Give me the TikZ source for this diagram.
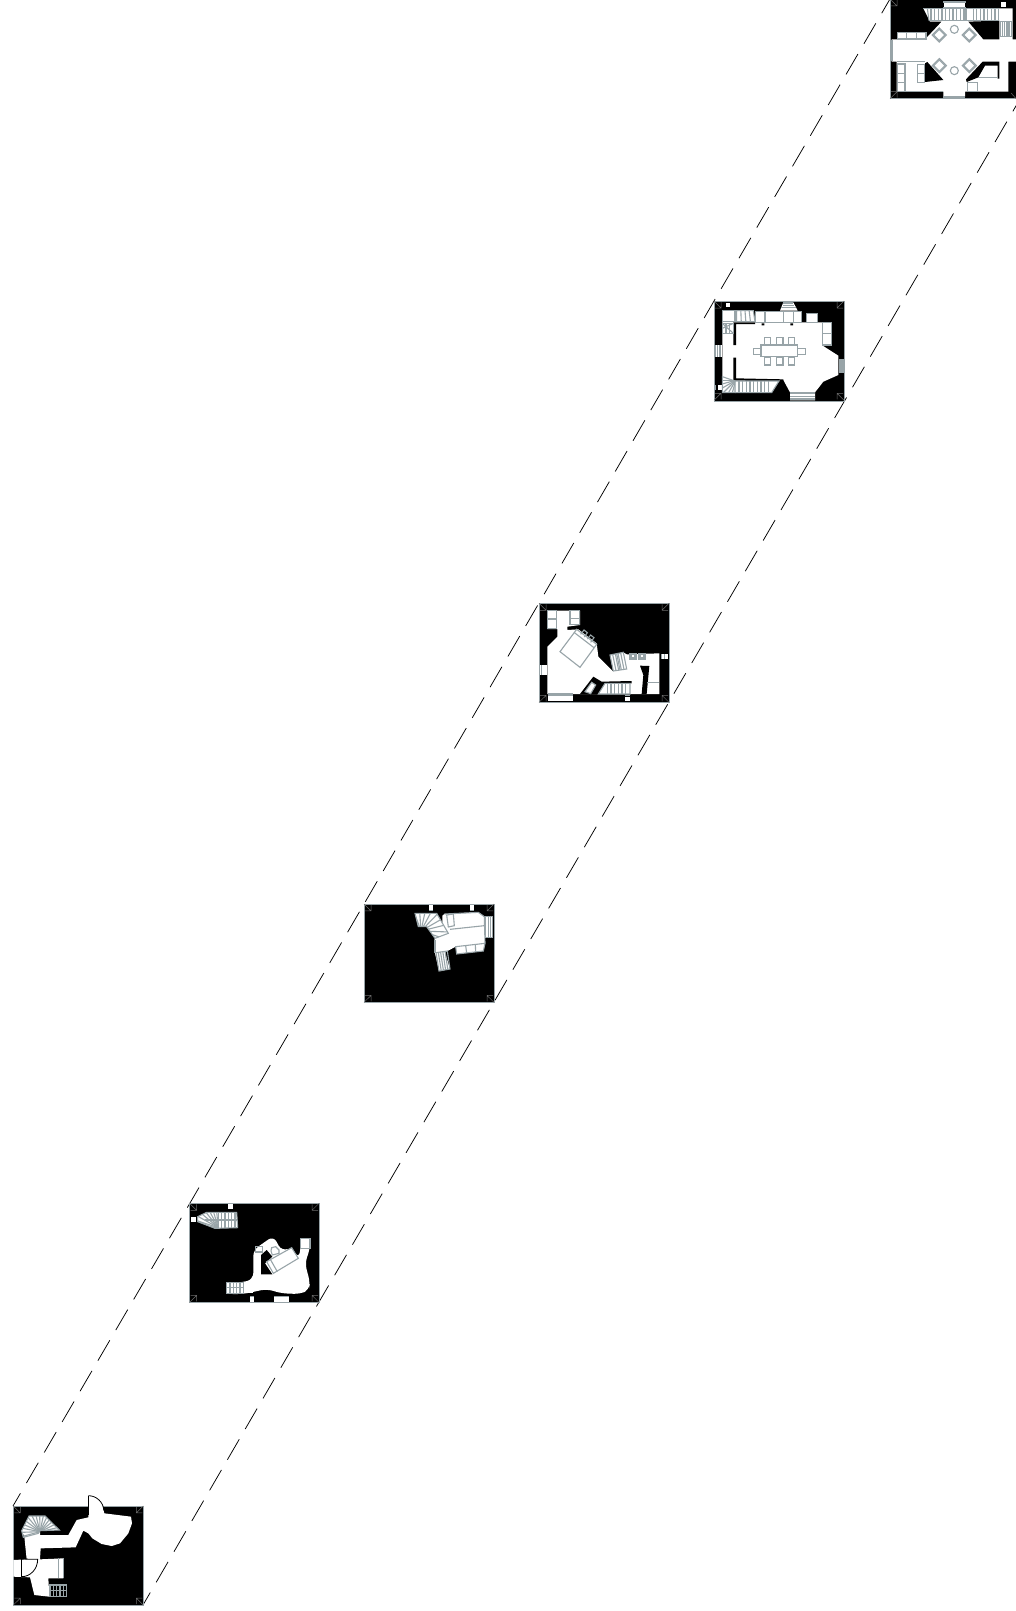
\documentclass[tikz,border=0pt]{standalone}
\usetikzlibrary{calc}
\definecolor{detgray}{HTML}{98A4A8}
\definecolor{markgray}{HTML}{6A6A6A}
\tikzset{
  det/.style={draw=detgray,line width=1.1pt,line join=miter},
  wh/.style={fill=white,draw=none},
  bk/.style={fill=black,draw=none},
  boxfill/.style={fill=black,draw=detgray,line width=0.8pt},
  dashline/.style={draw=black,line width=0.75pt,dash pattern=on 23.6pt off 11.85pt},
  doorline/.style={draw=black,line width=0.8pt},
  cornertick/.style={draw=markgray,line width=0.5pt},
  pl/.style 2 args={shift={(#1pt,-#2pt)},x=0.33333pt,y=-0.33333pt},
}
% stair: quad a b c d with n treads between a-b and d-c
\newcommand\stairq[5]{%
  \draw[det] (#1)--(#2)--(#3)--(#4)--cycle;
  \foreach \ii in {1,...,#5}{%
    \pgfmathsetmacro\tt{\ii/(#5+1)}%
    \draw[det] ($(#1)!\tt!(#2)$) -- ($(#4)!\tt!(#3)$);}}
% chair/square: centre, half size, angle
\newcommand\rotsq[4]{%
  \draw[det,shift={(#1)},rotate=#3,fill=white] (-#2,-#2) rectangle (#2,#2);
  \draw[det,shift={(#1)},rotate=#3] (-#2+#4,-#2+#4) rectangle (#2-#4,#2-#4);}
\newcommand\boxmarks{%
  \draw[cornertick] (0,0)--(21,21) (21,3)--(21,21)--(3,21);
  \draw[cornertick] (390,0)--(369,21) (369,3)--(369,21)--(387,21);
  \draw[cornertick] (0,298)--(21,277) (21,295)--(21,277)--(3,277);
  \draw[cornertick] (390,298)--(369,277) (369,295)--(369,277)--(387,277);}
\begin{document}
\begin{tikzpicture}[x=1pt,y=-1pt]
\useasboundingbox (0,0) rectangle (1016,1611);
\clip (0,0) rectangle (1016,1611);

% corners the dashed lines run through
\coordinate (tl1) at (890,-1);   \coordinate (br1) at (1020,99);
\coordinate (tl2) at (714,301);  \coordinate (br2) at (844.5,401);
\coordinate (tl3) at (539,603);  \coordinate (br3) at (669,702);
\coordinate (tl4) at (364,904);  \coordinate (br4) at (494,1002);
\coordinate (tl5) at (190,1203); \coordinate (br5) at (319,1302);
\coordinate (tl6) at (13,1506);  \coordinate (br6) at (143,1605);

\draw[dashline,dash phase=7.2pt] (tl1)--(tl2);
\draw[dashline,dash phase=3.9pt] (tl2)--(tl3);
\draw[dashline,dash phase=32.6pt] (tl3)--(tl4);
\draw[dashline,dash phase=26.4pt] (tl4)--(tl5);
\draw[dashline,dash phase=18.3pt] (tl5)--(tl6);
\draw[dashline,dash phase=9.3pt] (br1)--(br2);
\draw[dashline,dash phase=3.9pt] (br2)--(br3);
\draw[dashline,dash phase=32.8pt] (br3)--(br4);
\draw[dashline,dash phase=26.3pt] (br4)--(br5);
\draw[dashline,dash phase=18.5pt] (br5)--(br6);

%% ---------- plan 1 (top floor, zoom origin 870,0)
\begin{scope}[pl={870}{0}]
\draw[boxfill] (60,-3) rectangle (450,296);
\path[wh] (160,25)--(428,25)--(428,118)--(445,118)--(445,185)--(415,185)--(415,275)--(285,275)--(285,290)--(220,290)--(220,275)--(80,275)--(80,185)--(65,185)--(65,118)--(82,118)--(82,97)--(168,97)--(168,115)--(215,65)--(180,65)--cycle;
\path[bk] (295,65)--(388,62)--(388,118)--(340,118)--cycle;
\path[bk] (165,190)--(172,186)--(220,240)--(165,246)--cycle;
\path[bk] (338,185)--(388,185)--(388,236)--(383,236)--(383,197)--(345,197)--(325,232)--(290,246)--(288,238)--cycle;
% windows
\path[wh] (222,10) rectangle (286,25);
\draw[det,line width=1.4pt] (220,6)--(288,6);
\draw[det] (220,22)--(288,22) (220,25)--(288,25);
\path[wh] (392,5) rectangle (408,20);
\draw[det,line width=2.4pt] (220,292)--(285,292);
\draw[det,line width=2.2pt] (66,120)--(66,183);
% stairs
\draw[det] (160,25)--(385,25) (178,62)--(385,62)--(385,25);
\foreach \x in {172,183,...,285}{\draw[det] (\x,25)--({\x+(\x<180)*5},62);}
\draw[det] (288,25)--(288,60) (310,25)--(310,60);
\foreach \x in {320,331,...,375}{\draw[det] (\x,25)--(\x,62);}
\stairq{392,65}{425,65}{425,110}{392,110}{5}
% furniture
\draw[det] (82,97) rectangle (168,117) (110,97)--(110,117) (139,97)--(139,117);
\draw[det] (82,192) rectangle (105,275) (82,220)--(105,220) (82,248)--(105,248);
\draw[det] (142,193) rectangle (163,248) (142,221)--(163,221);
\draw[det] (80,185)--(165,185);
\draw[det] (105,275)--(220,275);
\draw[det] (293,247) rectangle (322,275);
\draw[det] (325,232)--(385,232);
\draw[det] (253,88) circle [radius=12];
\draw[det] (253,212) circle [radius=12];
\rotsq{208,105}{15}{45}{3}
\rotsq{298,105}{15}{45}{3}
\rotsq{208,197}{15}{45}{3}
\rotsq{298,197}{15}{45}{3}
\draw[cornertick] (60,-3)--(81,18) (81,0)--(81,18)--(63,18);
\draw[cornertick] (60,296)--(81,275) (81,293)--(81,275)--(63,275);
\draw[cornertick] (438,296)--(424,280);
\end{scope}

%% ---------- plan 2 (zoom origin 705,295)
\begin{scope}[pl={705}{295}]
\draw[boxfill] (27,18) rectangle (417,318);
\begin{scope}[shift={(27,18)}]\boxmarks\end{scope}
\path[wh] (52,47)--(145,47)--(150,80)--(152,82)--(152,50)--(290,50)--(290,82)--(305,82)--(305,55)--(338,55)--(338,82)--(380,82)--(380,150)--(350,150)--(400,182)--(400,240)--(355,260)--(330,292)--(330,316)--(255,316)--(255,292)--(235,255)--(222,258)--(200,293)--(52,293)--cycle;
\path[bk] (85,82)--(150,82)--(150,87)--(93,87)--(93,150)--(85,150)--cycle;
\path[bk] (85,188)--(93,188)--(93,250)--(235,253)--(235,258)--(85,257)--cycle;
% windows
\path[wh] (235,22)--(265,22)--(278,47)--(225,47)--cycle;
\draw[det] (235,24)--(265,24) (233,31)--(268,31) (228,38)--(273,38);
\path[wh] (62,24) rectangle (75,37);
\path[wh] (30,150) rectangle (52,185);
\draw[det] (31,150)--(31,185) (38,150)--(38,185) (45,150)--(45,185);
\draw[det] (403,195) rectangle (414,232) (408,195)--(408,232);
\path[wh] (38,270) rectangle (50,285);
\draw[det] (30,270)--(30,285);
\draw[det] (255,294)--(330,294) (255,304)--(330,304) (255,312)--(330,312);
% stairs
\stairq{95,47}{145,47}{150,80}{95,80}{3}
\draw[det] (52,47) rectangle (90,80);
\draw[det] (52,47)--(135,47);
\stairq{52,85}{85,85}{85,115}{52,115}{2}
\draw[det] (52,85)--(85,115) (85,85)--(52,100);
\begin{scope}
\clip (52,245)--(90,258)--(90,293)--(52,293)--cycle;
\foreach \a in {90,105,...,180}{\draw[det] (92,256)--+(\a:70);}
\end{scope}
\draw[det] (52,245)--(90,258)--(90,293)--(52,293)--cycle;
\draw[det] (90,258)--(222,258)--(200,293)--(90,293);
\foreach \x in {102,113,...,190}{\draw[det] (\x,258)--(\x,293);}
% furniture
\draw[det] (152,50) rectangle (290,82) (180,50)--(180,82) (235,50)--(235,82) (265,50)--(265,82);
\draw[det] (305,55) rectangle (338,82);
\draw[det] (352,82) rectangle (380,150) (352,115)--(380,115);
\draw[bk] (170,85) rectangle (178,91) (256,85) rectangle (264,91);
\draw[det,fill=white] (168,150) rectangle (278,185);
\foreach \x in {178,215,250}{%
  \draw[det] (\x,127) rectangle ++(19,23);
  \draw[det] (\x,188) rectangle ++(19,22);}
\draw[det] (145,160) rectangle (168,178);
\draw[det] (278,160) rectangle (302,178);
\end{scope}

%% ---------- plan 3 (zoom origin 530,595)
\begin{scope}[pl={530}{595}]
\draw[boxfill] (27,25) rectangle (417,322);
\begin{scope}[shift={(27,25)},yscale=0.997]\boxmarks\end{scope}
\path[wh] (52,47)--(150,47)--(150,90)--(112,95)--(112,105)--(145,103)--(200,145)--(205,185)--(250,230)--(240,180)--(280,172)--(290,178)--(388,175)--(388,297)--(225,297)--(205,297)--(160,297)--(52,297)--(52,155)--(82,125)--(82,102)--(52,102)--cycle;
\path[bk] (330,212)--(358,213)--(350,297)--(335,297)--(340,240)--cycle;
\path[bk] (190,245)--(215,260)--(305,258)--(305,265)--(225,268)--(205,297)--(150,297)--cycle;
% windows
\path[wh] (55,297) rectangle (128,318);
\draw[det] (55,297)--(128,297) (55,301)--(128,301);
\path[wh] (30,210) rectangle (52,240);
\draw[det] (34,210)--(34,240);
\path[wh] (285,305) rectangle (300,318);
\draw[det] (285,302)--(300,302);
\path[wh] (395,178) rectangle (413,192);
\draw[det] (395,178)--(395,192) (403,178)--(403,192);
% furniture
\draw[det] (52,47) rectangle (80,100) (52,72)--(80,72);
\draw[det] (120,47) rectangle (148,88) (120,70)--(148,70);
\draw[det,fill=white] (140,103)--(200,148)--(150,217)--(90,170)--cycle;
\draw[det] (132,112)--(192,158) (152,118)--(162,105)--(172,113)--(163,126) (172,132)--(182,120)--(192,128)--(182,142);
\stairq{240,180}{280,172}{290,222}{250,228}{4}
\draw[det] (260,176)--(270,225);
\draw[det] (298,175) rectangle (318,192) (303,178) rectangle (313,188);
\draw[det] (325,175) rectangle (345,192) (330,178) rectangle (340,188);
\draw[det] (352,262)--(388,262);
\path[wh] (165,290)--(182,296)--(197,270)--(185,262)--cycle;
\draw[det] (165,290)--(182,296)--(197,270)--(185,262)--cycle;
\path[wh] (225,265)--(300,265)--(300,297)--(205,297)--cycle;
\draw[det] (225,265)--(300,265)--(300,297)--(205,297)--cycle;
\foreach \x in {232,243,...,295}{\draw[det] (\x,265)--(\x,297);}
\end{scope}

%% ---------- plan 4 (zoom origin 355,895)
\begin{scope}[pl={355}{895}]
\draw[boxfill] (27,27) rectangle (417,322);
\begin{scope}[shift={(27,27)},yscale=0.99]\boxmarks\end{scope}
\path[wh] (180,55)--(245,55)--(262,85)--(262,62)--(268,57)--(370,52)--(388,65)--(390,145)--(385,168)--(305,177)--(302,155)--(270,172)--(285,222)--(252,228)--(240,175)--(238,135)--(240,130)--(215,95)--(190,95)--cycle;
\path[wh] (222,30) rectangle (235,47);
\path[wh] (345,30) rectangle (358,47);
\draw[det] (222,47)--(235,47) (345,47)--(358,47);
\path[wh] (392,65) rectangle (413,128);
\draw[det] (392,65) rectangle (413,128) (400,65)--(400,128) (407,65)--(407,128);
\begin{scope}
\clip (180,55)--(245,55)--(280,115)--(240,130)--(215,95)--(190,95)--cycle;
\foreach \a in {-110,-94,...,30}{\draw[det] (198,108)--+(\a:110);}
\end{scope}
\draw[det] (180,55)--(245,55)--(280,115)--(240,130)--(215,95)--(190,95)--cycle;
\draw[det] (268,57)--(370,52)--(388,65)--(390,145);
\draw[det] (285,103)--(388,92);
\draw[det] (275,60)--(295,57)--(298,92)--(280,96)--cycle;
\draw[det] (302,155)--(390,145)--(385,168)--(305,177)--cycle;
\draw[det] (332,152)--(335,174) (361,148)--(362,170);
\stairq{243,173}{277,168}{285,222}{252,228}{4}
\draw[det] (240,135)--(240,175);
\end{scope}

%% ---------- plan 5 (zoom origin 185,1195)
\begin{scope}[pl={185}{1195}]
\draw[boxfill] (14,25) rectangle (402,322);
\begin{scope}[shift={(14,25)},yscale=0.997,xscale=0.995]\boxmarks\end{scope}
\path[wh] (38,65)--(65,52)--(155,52)--(158,98)--(90,100)--(38,80)--cycle;
\path[wh] (130,27) rectangle (143,43);
\path[wh] (18,65) rectangle (32,80);
\path[wh,rounded corners=6pt] (205,165)--(265,123)--(290,168)--(320,158)--(340,190)--(348,160)--(345,130)--(375,130)--(375,160)--(360,205)--(375,262)--(372,285)--(345,297)--(290,295)--(245,282)--(175,297)--(125,297)--(125,262)--(175,262)--(205,252)--cycle;
\path[wh] (125,262) rectangle (205,295);
\path[wh] (345,130) rectangle (375,160);
\path[bk] (228,180)--(245,165)--(262,185)--(240,205)--(262,238)--(228,238)--cycle;
\path[wh] (195,305) rectangle (207,320);
\path[wh] (268,305) rectangle (312,320);
\draw[det] (268,305)--(312,305) (195,305)--(207,305);
\begin{scope}
\clip (38,65)--(65,52)--(100,52)--(100,100)--(90,100)--(38,80)--cycle;
\foreach \a in {165,176,...,285}{\draw[det] (100,98)--+(\a:80);}
\end{scope}
\draw[det] (38,65)--(65,52)--(155,52)--(158,98)--(90,100)--(38,80)--cycle;
\foreach \x in {100,110,...,150}{\draw[det] (\x,52)--(\x,98);}
\draw[det] (60,75)--(155,75);
\draw[det,fill=white] (245,200)--(320,158)--(340,190)--(265,235)--cycle;
\draw[det] (256,193)--(277,230);
\draw[det] (212,155) rectangle ++(20,16);
\draw[det] (258,168)--(260,158)--(272,155)--(282,165)--(282,175)--(262,180)--cycle;
\draw[det] (346,131) rectangle (375,160);
\draw[det] (125,262) rectangle (175,295);
\foreach \x in {135,145,155,165}{\draw[det] (\x,262)--(\x,295);}
\draw[det] (125,278)--(175,278);
\end{scope}

%% ---------- plan 6 (zoom origin 5,1490)
\begin{scope}[pl={5}{1490}]
\draw[boxfill] (25,48) rectangle (415,345);
\begin{scope}[shift={(25,48)},yscale=0.997]\boxmarks\end{scope}
\path[wh] (50,122)--(72,78)--(120,78)--(163,120)--(105,122)--(105,135)--(190,135)--(215,90)--(250,82)--(250,17)--(270,20)--(290,40)--(298,70)--(378,80)--(381,100)--(370,130)--(345,160)--(320,168)--(290,162)--(262,145)--(250,130)--(235,122)--(212,172)--(107,175)--(105,208)--(175,205)--(175,265)--(130,265)--(133,320)--(88,315)--(75,262)--(25,260)--(25,210)--(65,208)--(58,140)--cycle;
\begin{scope}
\clip (50,122)--(72,78)--(120,78)--(163,120)--(105,122)--(100,130)--(55,142)--cycle;
\foreach \a in {165,178,...,360}{\draw[det] (105,125)--+(\a:90);}
\end{scope}
\draw[det] (50,122)--(72,78)--(120,78)--(163,120)--(105,122)--(100,130)--(55,142)--cycle;
\stairq{135,285}{185,285}{185,320}{135,320}{4}
\draw[det] (135,302)--(185,302);
\draw[det] (160,205)--(160,265) (175,205)--(175,265);
\draw[doorline] (50,208)--(50,260);
\draw[doorline] (50,207)--(98,208) arc[start angle=0,end angle=90,x radius=48,y radius=52];
\draw[doorline] (250,17)--(250,75);
\draw[doorline] (250,17) arc[start angle=-90,end angle=-5,x radius=47,y radius=48];
\end{scope}
\end{tikzpicture}
\end{document}
